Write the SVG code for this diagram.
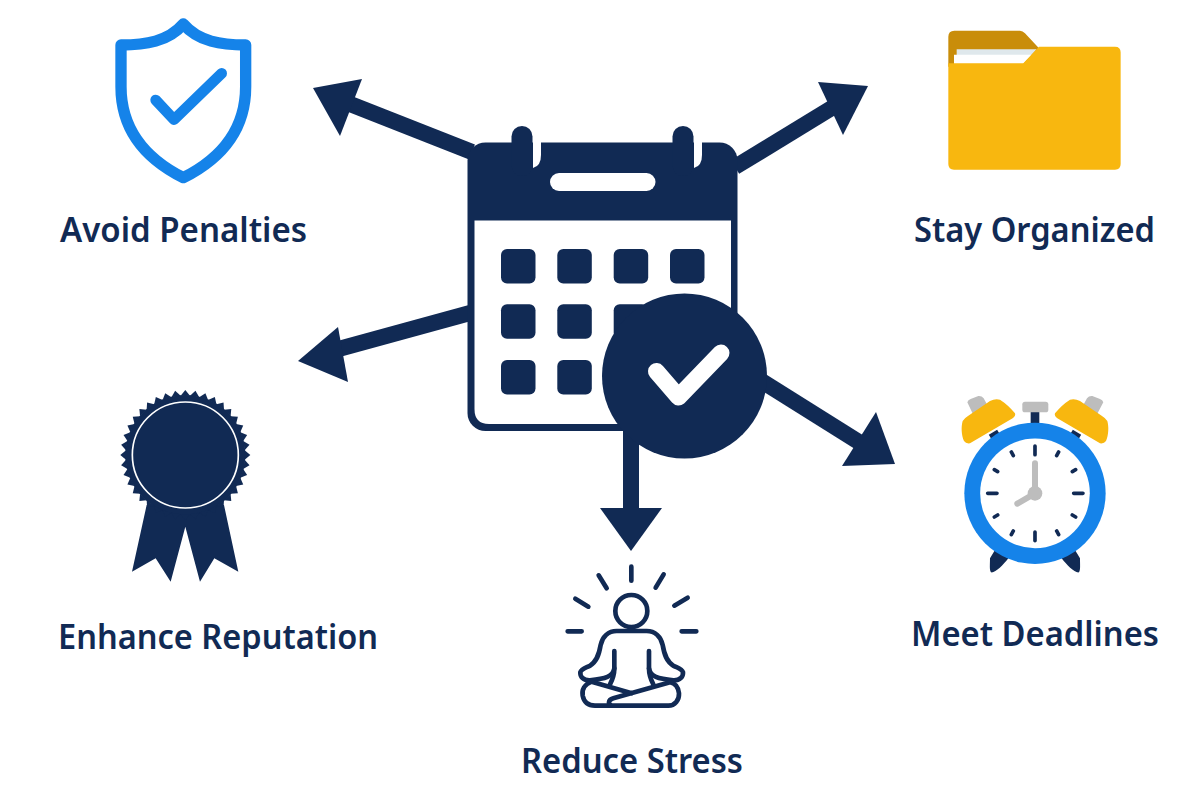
<svg xmlns="http://www.w3.org/2000/svg" xmlns:xlink="http://www.w3.org/1999/xlink" width="1200" height="800" viewBox="0 0 1200 800">
<style>
.label{font-family:"Noto Sans","Open Sans","Liberation Sans",sans-serif;font-weight:600;font-size:34px;fill:#112a54}
.navy{fill:#112a54}
.line{stroke:#112a54;stroke-width:16;fill:none}
.cell{fill:#112a54}
.med{fill:none;stroke:#112a54;stroke-width:14;stroke-linecap:round;stroke-linejoin:round}
.tick{stroke:#112a54;stroke-width:11;stroke-linecap:round;fill:none}
</style>
<defs>
<polygon id="tooth" points="-14,-178 0,-195 14,-178" fill="#112a54"/>
</defs>
<rect width="1200" height="800" fill="#fff"/>
<g id="connectors">
<path class="line" d="M472 152L345 102"/>
<polygon class="navy" points="313,88 362,79 340,136"/>
<path class="line" d="M735 167L835 106"/>
<polygon class="navy" points="868,86 818,82 843,135"/>
<path class="line" d="M470 313L335 350"/>
<polygon class="navy" points="298,361 338,327 348,382"/>
<path class="line" d="M760 380L862 444"/>
<polygon class="navy" points="895,464 842,466 876,412"/>
<path class="line" d="M631 425V512"/>
<polygon class="navy" points="600,508 662,508 631,551"/>
</g>
<g id="calendar">
<rect x="467.500" y="142.500" width="270" height="288.500" rx="18" fill="#112a54"/>
<path d="M474.500 220.500H731V400Q731 424 707 424H489Q474.500 424 474.500 409Z" fill="#fff"/>
<path d="M533 168V130H541V155Q541 166 533 168Z" fill="#fff"/>
<path d="M694 168V130H702V155Q702 166 694 168Z" fill="#fff"/>
<rect x="511.500" y="126" width="21" height="50" rx="10.500" fill="#112a54"/>
<rect x="672.500" y="126" width="21" height="50" rx="10.500" fill="#112a54"/>
<rect x="550" y="173" width="105.500" height="18" rx="9" fill="#fff"/>
<rect class="cell" x="501" y="249" width="34.500" height="34.500" rx="6"/>
<rect class="cell" x="557.300" y="249" width="34.500" height="34.500" rx="6"/>
<rect class="cell" x="613.700" y="249" width="34.500" height="34.500" rx="6"/>
<rect class="cell" x="670" y="249" width="34.500" height="34.500" rx="6"/>
<rect class="cell" x="501" y="304.300" width="34.500" height="34.500" rx="6"/>
<rect class="cell" x="557.300" y="304.300" width="34.500" height="34.500" rx="6"/>
<rect class="cell" x="613.700" y="304.300" width="34.500" height="34.500" rx="6"/>
<rect class="cell" x="501" y="360" width="34.500" height="34.500" rx="6"/>
<rect class="cell" x="557.300" y="360" width="34.500" height="34.500" rx="6"/>
<circle cx="684.500" cy="376" r="82.500" fill="#112a54"/>
<path d="M656.500 371.500L678.500 397L721 353" fill="none" stroke="#fff" stroke-width="17" stroke-linecap="round" stroke-linejoin="round"/>
</g>
<g id="avoid-penalties">
<g transform="translate(105 10) scale(.3333)">
<path d="M48 105C120 105 190 95 235 42C280 95 350 105 422 105V230C422 350 360 440 235 503C110 440 48 350 48 230Z" fill="none" stroke="#1583e9" stroke-width="34" stroke-linejoin="round"/>
<path d="M152 270L207 329L350 190" fill="none" stroke="#1583e9" stroke-width="32" stroke-linecap="round" stroke-linejoin="round"/>
</g>
<text class="label" x="183.500" y="242" text-anchor="middle" textLength="247" lengthAdjust="spacingAndGlyphs">Avoid Penalties</text>
</g>
<g id="stay-organized">
<g transform="translate(935 20) scale(.3333)">
<path d="M40 140V50Q40 32 58 32H255Q263 32 270 40L312 85V140Z" fill="#c98d0a"/>
<path d="M65 88H305L280 115H65Z" fill="#dfe8ec"/>
<path d="M57 104H290L262 135H57Z" fill="#fff"/>
<path d="M40 130H265L312 80H540Q557 80 557 97V432Q557 449 540 449H57Q40 449 40 432Z" fill="#f8b70f"/>
</g>
<text class="label" x="1034.500" y="242" text-anchor="middle" textLength="241" lengthAdjust="spacingAndGlyphs">Stay Organized</text>
</g>
<g id="enhance-reputation">
<g transform="translate(110 380) scale(.3333)">
<polygon class="navy" points="110,375 66,575 137,535 182,605 226,440 270,605 313,535 385,575 342,375"/>
<g transform="translate(226 225)">
<circle r="180" fill="#112a54"/>
<use xlink:href="#tooth" href="#tooth" transform="rotate(0)"/><use xlink:href="#tooth" href="#tooth" transform="rotate(9)"/><use xlink:href="#tooth" href="#tooth" transform="rotate(18)"/><use xlink:href="#tooth" href="#tooth" transform="rotate(27)"/><use xlink:href="#tooth" href="#tooth" transform="rotate(36)"/><use xlink:href="#tooth" href="#tooth" transform="rotate(45)"/><use xlink:href="#tooth" href="#tooth" transform="rotate(54)"/><use xlink:href="#tooth" href="#tooth" transform="rotate(63)"/><use xlink:href="#tooth" href="#tooth" transform="rotate(72)"/><use xlink:href="#tooth" href="#tooth" transform="rotate(81)"/>
<use xlink:href="#tooth" href="#tooth" transform="rotate(90)"/><use xlink:href="#tooth" href="#tooth" transform="rotate(99)"/><use xlink:href="#tooth" href="#tooth" transform="rotate(108)"/><use xlink:href="#tooth" href="#tooth" transform="rotate(117)"/><use xlink:href="#tooth" href="#tooth" transform="rotate(126)"/><use xlink:href="#tooth" href="#tooth" transform="rotate(135)"/><use xlink:href="#tooth" href="#tooth" transform="rotate(144)"/><use xlink:href="#tooth" href="#tooth" transform="rotate(153)"/><use xlink:href="#tooth" href="#tooth" transform="rotate(162)"/><use xlink:href="#tooth" href="#tooth" transform="rotate(171)"/>
<use xlink:href="#tooth" href="#tooth" transform="rotate(180)"/><use xlink:href="#tooth" href="#tooth" transform="rotate(189)"/><use xlink:href="#tooth" href="#tooth" transform="rotate(198)"/><use xlink:href="#tooth" href="#tooth" transform="rotate(207)"/><use xlink:href="#tooth" href="#tooth" transform="rotate(216)"/><use xlink:href="#tooth" href="#tooth" transform="rotate(225)"/><use xlink:href="#tooth" href="#tooth" transform="rotate(234)"/><use xlink:href="#tooth" href="#tooth" transform="rotate(243)"/><use xlink:href="#tooth" href="#tooth" transform="rotate(252)"/><use xlink:href="#tooth" href="#tooth" transform="rotate(261)"/>
<use xlink:href="#tooth" href="#tooth" transform="rotate(270)"/><use xlink:href="#tooth" href="#tooth" transform="rotate(279)"/><use xlink:href="#tooth" href="#tooth" transform="rotate(288)"/><use xlink:href="#tooth" href="#tooth" transform="rotate(297)"/><use xlink:href="#tooth" href="#tooth" transform="rotate(306)"/><use xlink:href="#tooth" href="#tooth" transform="rotate(315)"/><use xlink:href="#tooth" href="#tooth" transform="rotate(324)"/><use xlink:href="#tooth" href="#tooth" transform="rotate(333)"/><use xlink:href="#tooth" href="#tooth" transform="rotate(342)"/><use xlink:href="#tooth" href="#tooth" transform="rotate(351)"/>
<circle r="159" fill="#112a54" stroke="#fff" stroke-width="5"/>
</g>
</g>
<text class="label" x="218" y="649" text-anchor="middle" textLength="320" lengthAdjust="spacingAndGlyphs">Enhance Reputation</text>
</g>
<g id="reduce-stress">
<g transform="translate(555 555) scale(.3333)">
<path class="med" d="M229 35V77M131 61L155 100M61 131L100 155M38 229H80M380 229H424M358 152L398 128M302 98L326 58"/>
<circle class="med" cx="229" cy="168" r="48"/>
<path class="med" d="M178 288V340C175 365 150 372 105 376C85 377 75 365 76 352C80 340 95 338 105 332C125 320 132 300 137 270C142 245 160 228 185 228H275C300 228 318 245 323 270C328 300 335 320 355 332C365 338 380 340 384 352C385 365 375 377 355 376C310 372 285 365 282 340V288"/>
<path class="med" d="M178 340C178 360 172 375 165 388M282 340C282 360 288 375 295 388"/>
<path class="med" d="M110 380C88 388 80 405 83 422C87 442 100 452 120 452H340C360 452 373 435 372 415C370 398 362 385 345 382L175 430C158 435 158 450 172 452M110 380L230 415"/>
</g>
<text class="label" x="632" y="773" text-anchor="middle" textLength="222" lengthAdjust="spacingAndGlyphs">Reduce Stress</text>
</g>
<g id="meet-deadlines">
<g transform="translate(940 385) scale(.3333)">
<path d="M150 520C150 540 148 555 153 562C165 565 190 540 205 520L165 495Z" class="navy"/>
<path d="M420 520C420 540 422 555 417 562C405 565 380 540 365 520L405 495Z" class="navy"/>
<rect x="272" y="80" width="26" height="42" class="navy"/>
<path d="M150 155L175 140M420 155L395 140" stroke="#112a54" stroke-width="14"/>
<rect x="247" y="50" width="78" height="32" rx="8" fill="#bdbdbd"/>
<path d="M82 52Q84 45 92 42L115 33Q125 32 131 40L142 60L100 90Z" fill="#bdbdbd"/>
<path d="M490 52Q488 45 480 42L457 33Q447 32 441 40L430 60L470 90Z" fill="#bdbdbd"/>
<path d="M72 168C64 150 63 125 68 108Q72 100 85 92L150 48Q165 40 180 44Q205 60 225 85Q228 92 218 100L90 175Q78 177 72 168Z" fill="#f8b70f"/>
<path d="M498 168C506 150 507 125 502 108Q498 100 485 92L420 48Q405 40 390 44Q365 60 345 85Q342 92 352 100L480 175Q492 177 498 168Z" fill="#f8b70f"/>
<circle cx="285" cy="325" r="212" fill="#1583e9"/>
<circle cx="285" cy="325" r="164.500" fill="#fff"/>
<path class="tick" d="M285 183V209M285 441V467M143 325H171M401 325H429M214 201L220 212M356 201L350 212M163 254L173 260M407 254L397 260M163 396L173 390M407 396L397 390M214 449L220 438M356 449L350 438"/>
<path d="M285 235V325L232 356" fill="none" stroke="#bdbdbd" stroke-width="18" stroke-linecap="round" stroke-linejoin="round"/>
<circle cx="285" cy="325" r="22" fill="#bdbdbd"/>
</g>
<text class="label" x="1035" y="646" text-anchor="middle" textLength="248" lengthAdjust="spacingAndGlyphs">Meet Deadlines</text>
</g>
</svg>
